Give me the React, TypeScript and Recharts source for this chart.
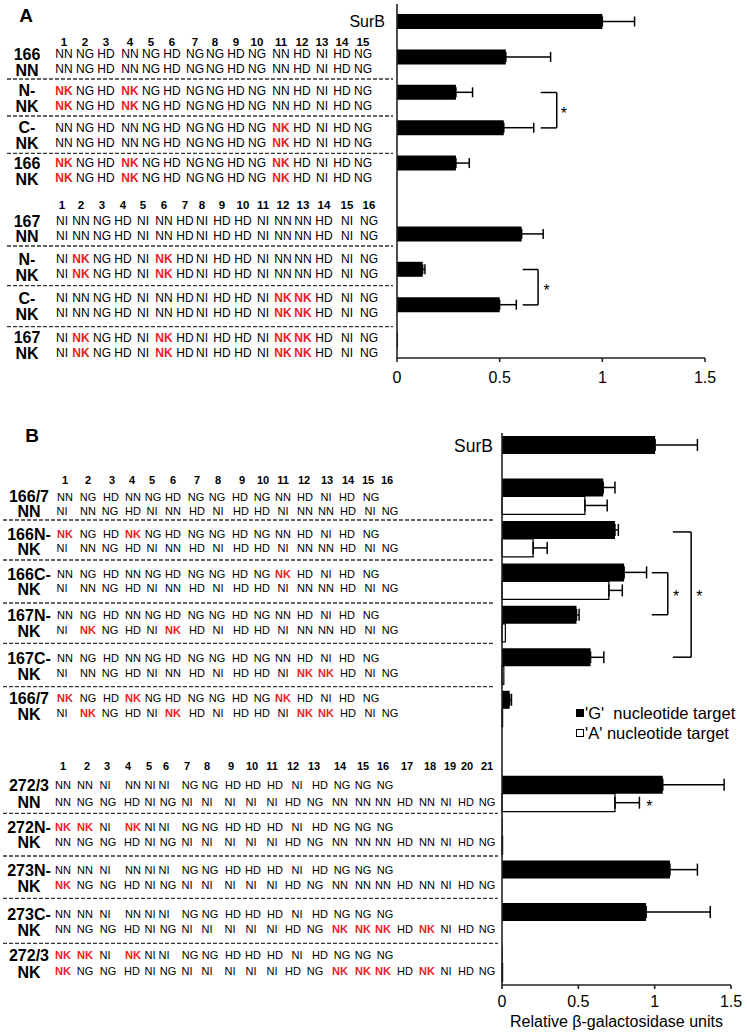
import React from 'react';
import { BarChart, Bar, XAxis, YAxis, ErrorBar, ReferenceLine, ReferenceDot, Legend } from 'recharts';

const FONT = '"Liberation Sans", Arial, Helvetica, sans-serif';
const RED = '#ec1c24';

// ---------------- Panel A data ----------------
const catsA = ['SurB', '166 NN', '166 N-NK', '166 C-NK', '166 NK', 'gap', '167 NN', '167 N-NK', '167 C-NK', '167 NK'];
const tickLabelsA = ['SurB', '', '', '', '', '', '', '', '', ''];
const valuesA = [1.0, 0.53, 0.287, 0.52, 0.287, null, 0.607, 0.125, 0.5, 0.005];
const errorsA = [0.157, 0.218, 0.081, 0.146, 0.065, null, 0.105, 0.011, 0.081, null];
const xTicks = [0, 0.5, 1, 1.5];

// brackets / stars (data units: x value, y = row position, rows counted from the top, 1 unit per row)
const bracketsA = [
  { x1: 0.7, x2: 0.778, y1: 2.5, y2: 3.5 },
  { x1: 0.612, x2: 0.687, y1: 7.5, y2: 8.5 },
];
const starsA = [
  { x: 0.813, y: 3.0 },
  { x: 0.729, y: 8.0 },
];

// ---------------- Panel B data ----------------
const catsB = ['SurB', '166/7 NN', '166N-NK', '166C-NK', '167N-NK', '167C-NK', '166/7 NK', 'gap', '272/3 NN', '272N-NK', '273N-NK', '273C-NK', '272/3 NK'];
const tickLabelsB = ['SurB', '', '', '', '', '', '', '', '', '', '', '', ''];
const gValuesB = [1.003, 0.663, 0.74, 0.8, 0.488, 0.58, 0.05, null, 1.053, 0.005, 1.1, 0.944, 0.005];
const gErrorsB = [0.277, 0.077, 0.022, 0.147, 0.017, 0.087, 0.012, null, 0.402, null, 0.18, 0.42, null];
const aValuesB = [null, 0.543, 0.204, 0.7, 0.022, 0.012, 0.004, null, 0.74, 0.004, 0, 0, 0.004];
const aErrorsB = [null, 0.146, 0.092, 0.088, null, null, null, null, 0.16, null, null, null, null];
const seriesNamesB = ["'G'  nucleotide target", "'A' nucleotide target"];

const bracketsB = [
  { x1: 0.981, x2: 1.086, y1: 3.29, y2: 4.28 },
  { x1: 1.119, x2: 1.239, y1: 2.33, y2: 5.28 },
];
const starsB = [
  { x: 1.1405, y: 3.76 },
  { x: 1.2935, y: 3.76 },
  { x: 0.965, y: 8.71 },
];

// ---------------- Text table data ----------------
const headerA1 = ['1', '2', '3', '4', '5', '6', '7', '8', '9', '10', '11', '12', '13', '14', '15'];
const headerA2 = ['1', '2', '3', '4', '5', '6', '7', '8', '9', '10', '11', '12', '13', '14', '15', '16'];
const rowsA1 = [
  { label: ['166', 'NN'], l1: 'NN NG HD NN NG HD NG NG HD NG NN HD NI HD NG', l2: 'NN NG HD NN NG HD NG NG HD NG NN HD NI HD NG' },
  { label: ['N-', 'NK'], l1: 'NK NG HD NK NG HD NG NG HD NG NN HD NI HD NG', l2: 'NK NG HD NK NG HD NG NG HD NG NN HD NI HD NG' },
  { label: ['C-', 'NK'], l1: 'NN NG HD NN NG HD NG NG HD NG NK HD NI HD NG', l2: 'NN NG HD NN NG HD NG NG HD NG NK HD NI HD NG' },
  { label: ['166', 'NK'], l1: 'NK NG HD NK NG HD NG NG HD NG NK HD NI HD NG', l2: 'NK NG HD NK NG HD NG NG HD NG NK HD NI HD NG' },
];
const rowsA2 = [
  { label: ['167', 'NN'], l1: 'NI NN NG HD NI NN HD NI HD HD NI NN NN HD NI NG', l2: 'NI NN NG HD NI NN HD NI HD HD NI NN NN HD NI NG' },
  { label: ['N-', 'NK'], l1: 'NI NK NG HD NI NK HD NI HD HD NI NN NN HD NI NG', l2: 'NI NK NG HD NI NK HD NI HD HD NI NN NN HD NI NG' },
  { label: ['C-', 'NK'], l1: 'NI NN NG HD NI NN HD NI HD HD NI NK NK HD NI NG', l2: 'NI NN NG HD NI NN HD NI HD HD NI NK NK HD NI NG' },
  { label: ['167', 'NK'], l1: 'NI NK NG HD NI NK HD NI HD HD NI NK NK HD NI NG', l2: 'NI NK NG HD NI NK HD NI HD HD NI NK NK HD NI NG' },
];
const headerB1 = ['1', '2', '3', '4', '5', '6', '7', '8', '9', '10', '11', '12', '13', '14', '15', '16'];
const headerB2 = ['1', '2', '3', '4', '5', '6', '7', '8', '9', '10', '11', '12', '13', '14', '15', '16', '17', '18', '19', '20', '21'];
const rowsB1 = [
  { label: ['166/7', 'NN'], l1: 'NN NG HD NN NG HD NG NG HD NG NN HD NI HD NG', l2: 'NI NN NG HD NI NN HD NI HD HD NI NN NN HD NI NG' },
  { label: ['166N-', 'NK'], l1: 'NK NG HD NK NG HD NG NG HD NG NN HD NI HD NG', l2: 'NI NN NG HD NI NN HD NI HD HD NI NN NN HD NI NG' },
  { label: ['166C-', 'NK'], l1: 'NN NG HD NN NG HD NG NG HD NG NK HD NI HD NG', l2: 'NI NN NG HD NI NN HD NI HD HD NI NN NN HD NI NG' },
  { label: ['167N-', 'NK'], l1: 'NN NG HD NN NG HD NG NG HD NG NN HD NI HD NG', l2: 'NI NK NG HD NI NK HD NI HD HD NI NN NN HD NI NG' },
  { label: ['167C-', 'NK'], l1: 'NN NG HD NN NG HD NG NG HD NG NN HD NI HD NG', l2: 'NI NN NG HD NI NN HD NI HD HD NI NK NK HD NI NG' },
  { label: ['166/7', 'NK'], l1: 'NK NG HD NK NG HD NG NG HD NG NK HD NI HD NG', l2: 'NI NK NG HD NI NK HD NI HD HD NI NK NK HD NI NG' },
];
const rowsB2 = [
  { label: ['272/3', 'NN'], l1: 'NN NN NI NN NI NI NG NG HD HD HD NI HD NG NG NG', l2: 'NN NG NG HD NI NG NI NI NI NI NI HD NG NN NN NN HD NN NI HD NG' },
  { label: ['272N-', 'NK'], l1: 'NK NK NI NK NI NI NG NG HD HD HD NI HD NG NG NG', l2: 'NN NG NG HD NI NG NI NI NI NI NI HD NG NN NN NN HD NN NI HD NG' },
  { label: ['273N-', 'NK'], l1: 'NN NN NI NN NI NI NG NG HD HD HD NI HD NG NG NG', l2: 'NK NG NG HD NI NG NI NI NI NI NI HD NG NN NN NN HD NN NI HD NG' },
  { label: ['273C-', 'NK'], l1: 'NN NN NI NN NI NI NG NG HD HD HD NI HD NG NG NG', l2: 'NN NG NG HD NI NG NI NI NI NI NI HD NG NK NK NK HD NK NI HD NG' },
  { label: ['272/3', 'NK'], l1: 'NK NK NI NK NI NI NG NG HD HD HD NI HD NG NG NG', l2: 'NK NG NG HD NI NG NI NI NI NI NI HD NG NK NK NK HD NK NI HD NG' },
];

// ---------------- Layout (pixel positions of the text table) ----------------
const colA1 = [64, 85, 106, 130, 151, 172, 195, 215, 236, 257, 281, 302, 322, 342, 363];
const colA2 = [62, 81, 102, 123, 143, 164, 185, 202, 222, 243, 263, 283, 303, 324, 347, 369];
const colB1h = [65, 88, 112, 132, 152, 173, 197, 218, 242, 263, 283, 304, 327, 348, 368, 387];
const colB1l1 = [65, 88, 111, 133, 153, 173, 196, 217, 240, 262, 283, 305, 326, 347, 371];
const colB1l2 = [62, 88, 110, 133, 152, 173, 197, 218, 241, 262, 283, 305, 326, 348, 370, 390];
const colB2h = [63, 87, 107, 128, 149, 166, 187, 207, 231, 252, 272, 293, 314, 340, 363, 383, 407, 430, 450, 467, 487];
const colB2l1 = [63, 85, 105, 133, 150, 164, 190, 210, 233, 253, 275, 297, 320, 342, 363, 385];
const colB2l2 = [63, 85, 108, 132, 150, 168, 187, 207, 230, 251, 272, 293, 315, 340, 363, 383, 405, 427, 446, 466, 487];

const yA1 = { header: 42, rows: [[54, 69], [90.7, 105.7], [127.7, 142.7], [163.3, 178.3]], dashes: [79, 116, 153.3] };
const yA2 = { header: 205, rows: [[221, 235.7], [259, 274], [298.3, 313.3], [337.7, 352.7]], dashes: [246, 285.7, 326.7] };
const yB1 = { header: 480, rows: [[496.7, 510.7], [534, 548.3], [574, 588.3], [615, 630], [658.3, 673.3], [698.3, 713.3]], dashes: [520, 560, 603, 643.3, 686.7] };
const yB2 = { header: 766, rows: [[785, 801.7], [827.3, 841.7], [870, 885], [914, 929.3], [955, 971]], dashes: [813.3, 856, 898.3, 943.3] };

// ---------------- Helpers ----------------
const dataA = catsA.map((c, i) => ({
  cat: c,
  row: i + 0.5,
  value: valuesA[i],
  err: errorsA[i] == null ? null : [0, errorsA[i]],
}));
const dataB = catsB.map((c, i) => ({
  cat: c,
  row: i + 0.5,
  g: gValuesB[i],
  gErr: gErrorsB[i] == null ? null : [0, gErrorsB[i]],
  a: aValuesB[i],
  aErr: aErrorsB[i] == null ? null : [0, aErrorsB[i]],
}));

function SeqLine({ text, xs, y, size }: any) {
  const toks = text.split(' ');
  return (
    <g>
      {toks.map((t: string, i: number) => (
        <text
          key={i}
          x={xs[i]}
          y={y}
          textAnchor="middle"
          dominantBaseline="central"
          fontSize={size}
          fontFamily={FONT}
          fontWeight={t === 'NK' ? 'bold' : 'normal'}
          fill={t === 'NK' ? RED : '#000'}
        >
          {t}
        </text>
      ))}
    </g>
  );
}

function Block({ header, colH, col1, col2, rows, ys, size, hSize, lSize, labelX, dashX1, dashX2 }: any) {
  return (
    <g>
      {header.map((h: string, i: number) => (
        <text key={'h' + i} x={colH[i]} y={ys.header} textAnchor="middle" dominantBaseline="central" fontSize={hSize} fontWeight="bold" fontFamily={FONT} fill="#000">
          {h}
        </text>
      ))}
      {rows.map((r: any, i: number) => (
        <g key={'r' + i}>
          <text x={labelX} y={ys.rows[i][0]} textAnchor="middle" dominantBaseline="central" fontSize={lSize} fontWeight="bold" fontFamily={FONT} fill="#000">{r.label[0]}</text>
          <text x={labelX} y={ys.rows[i][1] + 1} textAnchor="middle" dominantBaseline="central" fontSize={lSize} fontWeight="bold" fontFamily={FONT} fill="#000">{r.label[1]}</text>
          <SeqLine text={r.l1} xs={col1} y={ys.rows[i][0]} size={size} />
          <SeqLine text={r.l2} xs={col2} y={ys.rows[i][1]} size={size} />
        </g>
      ))}
      {ys.dashes.map((d: number, i: number) => (
        <line key={'d' + i} x1={dashX1} x2={dashX2} y1={d} y2={d} stroke="#333" strokeWidth={1.3} strokeDasharray="4 2" />
      ))}
    </g>
  );
}

const StarShape = (p: any) => (
  <text x={p.cx} y={p.cy} dy={9} textAnchor="middle" fontSize={16} fontFamily={FONT} fill="#000">*</text>
);

const makeTick = (cats: string[], labels: string[], fontSize: number, dy: number) => (props: any) => {
  const { x, y, payload } = props;
  const idx = cats.indexOf(payload.value);
  const label = idx >= 0 ? labels[idx] : '';
  if (!label) return <g />;
  return (
    <text x={x} y={y + dy} textAnchor="end" dominantBaseline="central" fontSize={fontSize} fontFamily={FONT} fill="#000">
      {label}
    </text>
  );
};

const renderLegend = (props: any) => {
  const payload = [...(props.payload || [])].sort(
    (p: any, q: any) => seriesNamesB.indexOf(p.value) - seriesNamesB.indexOf(q.value)
  );
  return (
    <div style={{ fontFamily: FONT, fontSize: 16.5, lineHeight: '20px', color: '#000', whiteSpace: 'pre' }}>
      {payload.map((e: any, i: number) => (
        <div key={i} style={{ display: 'flex', alignItems: 'center', height: 20 }}>
          <span
            style={{
              display: 'inline-block',
              width: 8,
              height: 8,
              background: e.color,
              border: '1.2px solid #000',
              boxSizing: 'border-box',
              marginRight: 1,
            }}
          />
          <span>{e.value}</span>
        </div>
      ))}
    </div>
  );
};

const AXIS = '#222';
const tickStyle = { fontSize: 16, fill: '#000', fontFamily: FONT };

export default function App() {
  return (
    <div style={{ position: 'absolute', left: 0, top: 0, width: 747, height: 1033, background: '#fff', overflow: 'hidden' }}>
      <svg width={747} height={1033} style={{ position: 'absolute', left: 0, top: 0 }}>
        <text x={26} y={15} textAnchor="middle" dominantBaseline="central" fontSize={19} fontWeight="bold" fontFamily={FONT}>A</text>
        <text x={32} y={435} textAnchor="middle" dominantBaseline="central" fontSize={19} fontWeight="bold" fontFamily={FONT}>B</text>
        <Block header={headerA1} colH={colA1} col1={colA1} col2={colA1} rows={rowsA1} ys={yA1} size={12} hSize={11.5} lSize={16} labelX={27} dashX1={7} dashX2={393} />
        <Block header={headerA2} colH={colA2} col1={colA2} col2={colA2} rows={rowsA2} ys={yA2} size={12} hSize={11.5} lSize={16} labelX={27} dashX1={7} dashX2={393} />
        <Block header={headerB1} colH={colB1h} col1={colB1l1} col2={colB1l2} rows={rowsB1} ys={yB1} size={11} hSize={11} lSize={16} labelX={29} dashX1={3} dashX2={495} />
        <Block header={headerB2} colH={colB2h} col1={colB2l1} col2={colB2l2} rows={rowsB2} ys={yB2} size={11} hSize={11} lSize={16} labelX={29} dashX1={3} dashX2={498} />
      </svg>

      {/* Panel A chart */}
      <div style={{ position: 'absolute', left: 0, top: 0 }}>
        <BarChart width={747} height={400} data={dataA} layout="vertical" margin={{ top: 4, right: 42, bottom: 12, left: 337 }} barCategoryGap={0}>
          <XAxis type="number" domain={[0, 1.5]} ticks={xTicks} stroke={AXIS} strokeWidth={1.6} tickSize={4} tickMargin={10} tick={tickStyle} height={30} interval={0} />
          <YAxis type="category" dataKey="cat" width={60} stroke={AXIS} strokeWidth={1.6} tickLine={false} tickSize={0} tickMargin={12} tick={makeTick(catsA, tickLabelsA, 16, 0)} interval={0} />
          <YAxis yAxisId="num" dataKey="row" type="number" domain={[0, catsA.length]} hide allowDataOverflow />
          <Bar dataKey="value" fill="#000" barSize={15} isAnimationActive={false}>
            <ErrorBar dataKey="err" direction="x" width={5} stroke="#000" strokeWidth={1.5} />
          </Bar>
          {bracketsA.map((b, i) => (
            <ReferenceLine key={'a1' + i} yAxisId="num" ifOverflow="visible" stroke="#000" strokeWidth={1.5} segment={[{ x: b.x1, y: b.y1 }, { x: b.x2, y: b.y1 }]} />
          ))}
          {bracketsA.map((b, i) => (
            <ReferenceLine key={'a2' + i} yAxisId="num" ifOverflow="visible" stroke="#000" strokeWidth={1.5} segment={[{ x: b.x2, y: b.y1 }, { x: b.x2, y: b.y2 }]} />
          ))}
          {bracketsA.map((b, i) => (
            <ReferenceLine key={'a3' + i} yAxisId="num" ifOverflow="visible" stroke="#000" strokeWidth={1.5} segment={[{ x: b.x1, y: b.y2 }, { x: b.x2, y: b.y2 }]} />
          ))}
          {starsA.map((s, i) => (
            <ReferenceDot key={'as' + i} yAxisId="num" x={s.x} y={s.y} r={0} ifOverflow="visible" shape={StarShape} />
          ))}
        </BarChart>
      </div>

      {/* Panel B chart */}
      <div style={{ position: 'absolute', left: 0, top: 420 }}>
        <BarChart width={747} height={613} data={dataB} layout="vertical" margin={{ top: 13, right: 16, bottom: 0, left: 442 }} barGap={0}>
          <XAxis
            type="number"
            domain={[0, 1.5]}
            ticks={xTicks}
            stroke={AXIS}
            strokeWidth={1.6}
            tickSize={4}
            tickMargin={7}
            tick={tickStyle}
            height={48}
            interval={0}
            label={{ value: 'Relative β-galactosidase units', position: 'insideBottom', offset: 6, fontSize: 16, fill: '#000', fontFamily: FONT }}
          />
          <YAxis type="category" dataKey="cat" width={60} stroke={AXIS} strokeWidth={1.6} tickLine={false} tickSize={0} tickMargin={9} tick={makeTick(catsB, tickLabelsB, 17.5, -8)} interval={0} />
          <YAxis yAxisId="num" dataKey="row" type="number" domain={[0, catsB.length]} hide allowDataOverflow />
          <Bar dataKey="g" name={seriesNamesB[0]} fill="#000" barSize={18} isAnimationActive={false}>
            <ErrorBar dataKey="gErr" direction="x" width={6} stroke="#000" strokeWidth={1.5} />
          </Bar>
          <Bar dataKey="a" name={seriesNamesB[1]} fill="#fff" stroke="#000" strokeWidth={1.2} barSize={18} isAnimationActive={false}>
            <ErrorBar dataKey="aErr" direction="x" width={6} stroke="#000" strokeWidth={1.5} />
          </Bar>
          {bracketsB.map((b, i) => (
            <ReferenceLine key={'b1' + i} yAxisId="num" ifOverflow="visible" stroke="#000" strokeWidth={1.5} segment={[{ x: b.x1, y: b.y1 }, { x: b.x2, y: b.y1 }]} />
          ))}
          {bracketsB.map((b, i) => (
            <ReferenceLine key={'b2' + i} yAxisId="num" ifOverflow="visible" stroke="#000" strokeWidth={1.5} segment={[{ x: b.x2, y: b.y1 }, { x: b.x2, y: b.y2 }]} />
          ))}
          {bracketsB.map((b, i) => (
            <ReferenceLine key={'b3' + i} yAxisId="num" ifOverflow="visible" stroke="#000" strokeWidth={1.5} segment={[{ x: b.x1, y: b.y2 }, { x: b.x2, y: b.y2 }]} />
          ))}
          {starsB.map((s, i) => (
            <ReferenceDot key={'bs' + i} yAxisId="num" x={s.x} y={s.y} r={0} ifOverflow="visible" shape={StarShape} />
          ))}
          <Legend
            layout="vertical"
            align="center"
            verticalAlign="middle"
            content={renderLegend}
            wrapperStyle={{ left: 576, top: 283, width: 171, height: 40 }}
          />
        </BarChart>
      </div>
    </div>
  );
}
